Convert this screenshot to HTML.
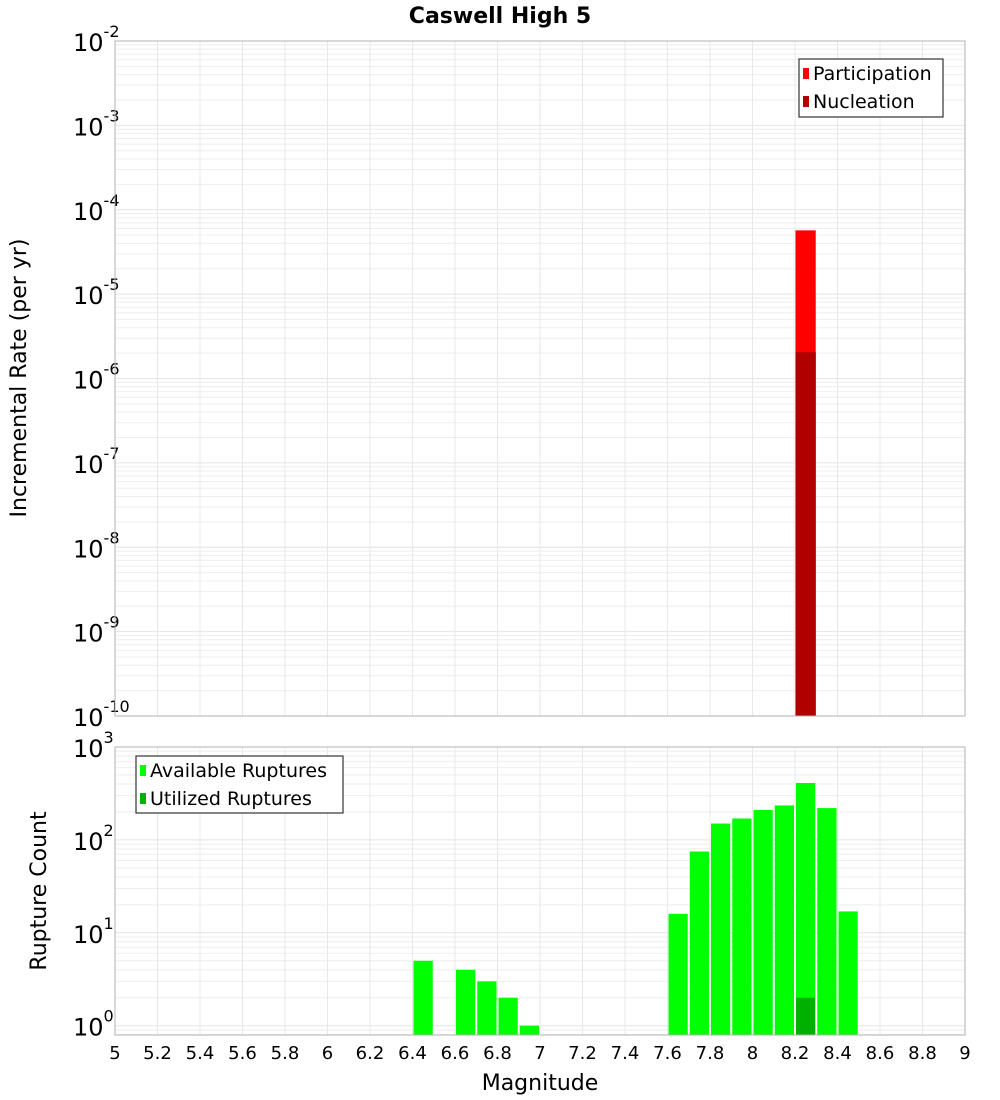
<!DOCTYPE html>
<html><head><meta charset="utf-8"><style>
body{margin:0;background:#fff;}
svg{display:block;font-family:"DejaVu Sans","Liberation Sans",sans-serif;}
</style></head><body>
<svg id="c" width="1000" height="1100" xmlns="http://www.w3.org/2000/svg">
<text x="500" y="23" text-anchor="middle" font-size="22" font-weight="bold">Caswell High 5</text>
<g id="topPanel"></g>
<g id="botPanel"></g>
<text transform="translate(26,378) rotate(-90)" text-anchor="middle" font-size="22">Incremental Rate (per yr)</text>
<text transform="translate(46,891) rotate(-90)" text-anchor="middle" font-size="22">Rupture Count</text>
<text x="540" y="1090" text-anchor="middle" font-size="22">Magnitude</text>
<g>
<rect x="799" y="59" width="144" height="58" fill="#fff" stroke="#333" stroke-width="1.2"/>
<rect x="803" y="68" width="6" height="11" fill="#ff0000"/>
<text x="813" y="80" font-size="19">Participation</text>
<rect x="803" y="96" width="6" height="11" fill="#b00000"/>
<text x="813" y="108" font-size="19">Nucleation</text>
</g>
<g>
<rect x="136" y="756" width="207" height="57" fill="#fff" stroke="#333" stroke-width="1.2"/>
<rect x="140" y="765" width="6" height="11" fill="#00ff00"/>
<text x="150" y="777" font-size="19">Available Ruptures</text>
<rect x="140" y="793" width="6" height="11" fill="#00b000"/>
<text x="150" y="805" font-size="19">Utilized Ruptures</text>
</g>
</svg>
<script>
const xTicks=[5,5.2,5.4,5.6,5.8,6,6.2,6.4,6.6,6.8,7,7.2,7.4,7.6,7.8,8,8.2,8.4,8.6,8.8,9];
const partMags=[8.25];
const partRates=[5.7e-5];
const nuclMags=[8.25];
const nuclRates=[2.05e-6];
const availMags=[6.45,6.65,6.75,6.85,6.95,7.65,7.75,7.85,7.95,8.05,8.15,8.25,8.35,8.45];
const availCounts=[5,4,3,2,1,16,75,150,170,210,235,410,220,17];
const usedMags=[8.25];
const usedCounts=[2];
const topDecades=[-10,-9,-8,-7,-6,-5,-4,-3,-2];
const botDecades=[0,1,2,3];

const NS="http://www.w3.org/2000/svg";
const X0=115,X1=965;
function sx(m){return X0+(m-5)/4*(X1-X0);}
function mk(t,a,p){const e=document.createElementNS(NS,t);for(const k in a)e.setAttribute(k,a[k]);p.appendChild(e);return e;}
function panel(g,T,B,lo,hi,decs){
  const sy=v=>B-(Math.log10(v)-lo)/(hi-lo)*(B-T);
  mk('rect',{x:X0,y:T,width:X1-X0,height:B-T,fill:'#fff'},g);
  for(let d=Math.floor(lo);d<hi;d++)for(let k=1;k<10;k++){const v=k*Math.pow(10,d);const y=sy(v);if(y<T-0.5||y>B+0.5)continue;
    mk('line',{x1:X0,x2:X1,y1:y,y2:y,stroke:k==1?'#e4e4e4':'#eeeeee','stroke-width':1},g);}
  xTicks.forEach(t=>{mk('line',{x1:sx(t),x2:sx(t),y1:T,y2:B,stroke:'#e8e8e8','stroke-width':1},g);});
  decs.forEach(d=>{const y=sy(Math.pow(10,d));
    const tx=mk('text',{x:73,y:y+10,'font-size':24},g);
    
    
    tx.textContent='10';
    const s=mk('tspan',{dy:-14,'font-size':16},tx);s.textContent=String(d);});
  return sy;
}
const gTop=document.getElementById('topPanel'),gBot=document.getElementById('botPanel');
const syT=panel(gTop,41,716,-10,-2,topDecades);
const syB=panel(gBot,747,1035,-0.1,3,botDecades);
const w=sx(5.1)-sx(5);
partMags.forEach((m,i)=>{const r=mk('rect',{x:sx(m)-w/2+0.5,y:syT(partRates[i]),width:w-1,height:716-syT(partRates[i]),fill:'#ff0000'},gTop);
  
  });
nuclMags.forEach((m,i)=>{const r=mk('rect',{x:sx(m)-w/2+0.5,y:syT(nuclRates[i]),width:w-1,height:716-syT(nuclRates[i]),fill:'#b00000'},gTop);
  
  });
availMags.forEach((m,i)=>{const r=mk('rect',{x:sx(m)-w/2+1,y:syB(availCounts[i]),width:w-2,height:1035-syB(availCounts[i]),fill:'#00ff00'},gBot);
  
  });
usedMags.forEach((m,i)=>{const r=mk('rect',{x:sx(m)-w/2+1,y:syB(usedCounts[i]),width:w-2,height:1035-syB(usedCounts[i]),fill:'#00b000'},gBot);
  
  });
mk('rect',{x:X0,y:41,width:X1-X0,height:675,fill:'none',stroke:'#b0b0b0'},gTop);
mk('rect',{x:X0,y:747,width:X1-X0,height:288,fill:'none',stroke:'#b0b0b0'},gBot);
xTicks.forEach(t=>{const tx=mk('text',{x:sx(t),y:1059,'text-anchor':'middle','font-size':18},gBot);
  
  
  tx.textContent=String(t);});
</script>
</body></html>
